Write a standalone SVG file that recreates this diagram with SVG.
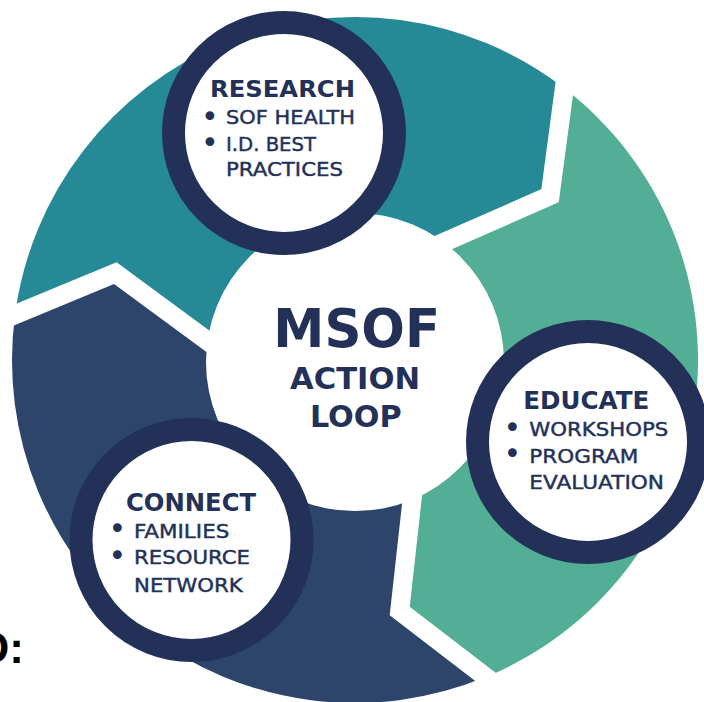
<svg xmlns="http://www.w3.org/2000/svg" width="704" height="702" viewBox="0 0 704 702">
  <style>
    .ring-teal { fill: #268A96; }
    .ring-green { fill: #52AE94; }
    .ring-blue { fill: #2E456B; }
    .gap { fill: none; stroke: #FFFFFF; stroke-width: 19; stroke-linejoin: miter; stroke-miterlimit: 10; }
    .hub { fill: #FFFFFF; }
    .badge { fill: #FFFFFF; stroke: #233158; stroke-width: 23; }
    .head { font-family: "DejaVu Sans", "Liberation Sans", sans-serif; font-weight: 700; fill: #233158; }
    .item { font-family: "DejaVu Sans", "Liberation Sans", sans-serif; font-weight: 400; font-size: 20px; fill: #233158; stroke: #233158; stroke-width: 0.45; }
    .dot { font-size: 30px; stroke: none; }
    .title { font-family: "DejaVu Sans", "Liberation Sans", sans-serif; font-weight: 700; fill: #233158; text-anchor: middle; }
  </style>

  <rect width="704" height="702" fill="#FFFFFF"/>

  <!-- cycle ring: three chevron-ended arcs around centre (355,360) -->
  <g id="ring">
    <path id="seg-research" class="ring-teal" d="M15.01 314.63 A343 343 0 0 1 564.31 88.27 L550.05 195.75 L446.54 241.17 L355 360 L206.32 340.16 L115.23 273.20 Z"/>
    <path id="seg-educate" class="ring-green" d="M564.31 88.27 A343 343 0 0 1 485.71 677.12 L399.72 611.05 L412.16 498.68 L355 360 L446.54 241.17 L550.05 195.75 Z"/>
    <path id="seg-connect" class="ring-blue" d="M485.71 677.12 A343 343 0 0 1 15.01 314.63 L115.23 273.20 L206.32 340.16 L355 360 L412.16 498.68 L399.72 611.05 Z"/>
  </g>

  <!-- white chevron gaps between the arcs -->
  <g id="connectors">
    <path class="gap" d="M0 320.9 L115.23 273.20 L229.09 356.9"/>
    <path class="gap" d="M566.45 72.15 L550.05 195.75 L420.66 252.53"/>
    <path class="gap" d="M498.61 687.03 L399.72 611.05 L415.27 470.59"/>
  </g>

  <!-- hub -->
  <g id="hub">
    <circle class="hub" cx="355" cy="362" r="149"/>
    <text class="title" x="356.7" y="346.7" font-size="54" textLength="166.7" lengthAdjust="spacingAndGlyphs">MSOF</text>
    <text class="title" x="355" y="389.3" font-size="31" textLength="130" lengthAdjust="spacingAndGlyphs">ACTION</text>
    <text class="title" x="355.8" y="426.7" font-size="31" textLength="91.7" lengthAdjust="spacingAndGlyphs">LOOP</text>
  </g>

  <!-- research node -->
  <g id="node-research">
    <circle class="badge" cx="284" cy="133" r="110.5"/>
    <text class="head" x="210" y="96.7" font-size="23.5" textLength="145" lengthAdjust="spacingAndGlyphs">RESEARCH</text>
    <text class="item"><tspan class="dot" x="200.9" y="126.6">•</tspan><tspan x="226" y="124" textLength="129" lengthAdjust="spacingAndGlyphs">SOF HEALTH</tspan><tspan class="dot" x="200.9" y="152.6">•</tspan><tspan x="226" y="150.7" textLength="90" lengthAdjust="spacingAndGlyphs">I.D. BEST</tspan><tspan x="226" y="176" textLength="117" lengthAdjust="spacingAndGlyphs">PRACTICES</tspan></text>
  </g>

  <!-- educate node -->
  <g id="node-educate">
    <circle class="badge" cx="588" cy="442" r="110.5"/>
    <text class="head" x="523.3" y="409.3" font-size="24" textLength="126" lengthAdjust="spacingAndGlyphs">EDUCATE</text>
    <text class="item"><tspan class="dot" x="503.6" y="437.6">•</tspan><tspan x="529.3" y="436" textLength="139" lengthAdjust="spacingAndGlyphs">WORKSHOPS</tspan><tspan class="dot" x="503.6" y="464.3">•</tspan><tspan x="529.3" y="462.7" textLength="109" lengthAdjust="spacingAndGlyphs">PROGRAM</tspan><tspan x="529.3" y="489.3" textLength="134.7" lengthAdjust="spacingAndGlyphs">EVALUATION</tspan></text>
  </g>

  <!-- connect node -->
  <g id="node-connect">
    <circle class="badge" cx="191.5" cy="540" r="110.5"/>
    <text class="head" x="126" y="510.7" font-size="24" textLength="130" lengthAdjust="spacingAndGlyphs">CONNECT</text>
    <text class="item"><tspan class="dot" x="108.6" y="539.3">•</tspan><tspan x="134" y="538.3" textLength="95.3" lengthAdjust="spacingAndGlyphs">FAMILIES</tspan><tspan class="dot" x="108.6" y="566">•</tspan><tspan x="134" y="564.3" textLength="116" lengthAdjust="spacingAndGlyphs">RESOURCE</tspan><tspan x="134" y="591.7" textLength="108.7" lengthAdjust="spacingAndGlyphs">NETWORK</tspan></text>
  </g>

  <!-- caption fragment at the left edge -->
  <text x="-22.5" y="663" font-family="Liberation Sans, Arial, sans-serif" font-weight="700" font-size="44" fill="#000000">D:</text>
</svg>
